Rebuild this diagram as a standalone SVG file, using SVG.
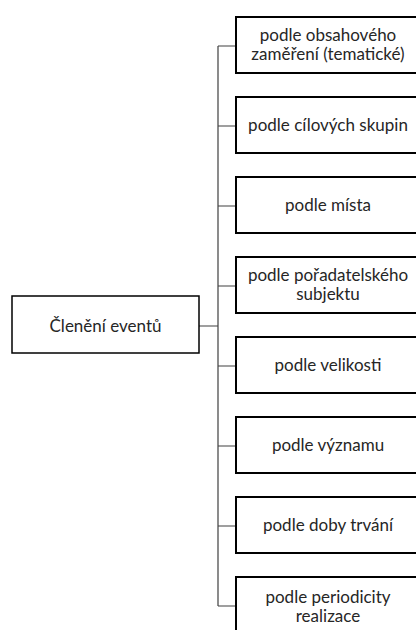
<svg xmlns="http://www.w3.org/2000/svg" width="416" height="630" viewBox="0 0 416 630">
<style>
.box{fill:#fff;stroke:#000;stroke-width:2}
.root{fill:#fff;stroke:#000;stroke-width:1.5}
.conn{fill:none;stroke:#404040;stroke-width:1.2}
text{font-family:Lato,"Open Sans","Liberation Sans",sans-serif;font-size:17px;fill:#262626;text-anchor:middle}
</style>
<rect width="416" height="630" fill="#fff"/>
<g id="connectors">
<path class="conn" d="M199 326H218M218 46V606M218 46H236M218 126H236M218 206H236M218 286H236M218 366H236M218 446H236M218 526H236M218 606H236"/>
</g>
<g id="root"><rect class="root" x="12" y="296" width="187" height="57"/><text x="105.5" y="332">Členění eventů</text></g>
<g id="n1"><rect class="box" x="236" y="17" width="186" height="56"/><text x="328" y="41">podle obsahového</text><text x="328" y="60">zaměření (tematické)</text></g>
<g id="n2"><rect class="box" x="236" y="97" width="186" height="56"/><text x="328" y="131">podle cílových skupin</text></g>
<g id="n3"><rect class="box" x="236" y="177" width="186" height="56"/><text x="328" y="211">podle místa</text></g>
<g id="n4"><rect class="box" x="236" y="257" width="186" height="56"/><text x="328" y="281">podle pořadatelského</text><text x="328" y="300">subjektu</text></g>
<g id="n5"><rect class="box" x="236" y="337" width="186" height="56"/><text x="328" y="371">podle velikosti</text></g>
<g id="n6"><rect class="box" x="236" y="417" width="186" height="56"/><text x="328" y="451">podle významu</text></g>
<g id="n7"><rect class="box" x="236" y="497" width="186" height="56"/><text x="328" y="531">podle doby trvání</text></g>
<g id="n8"><rect class="box" x="236" y="577" width="186" height="56"/><text x="328" y="603">podle periodicity</text><text x="328" y="622">realizace</text></g>
</svg>
